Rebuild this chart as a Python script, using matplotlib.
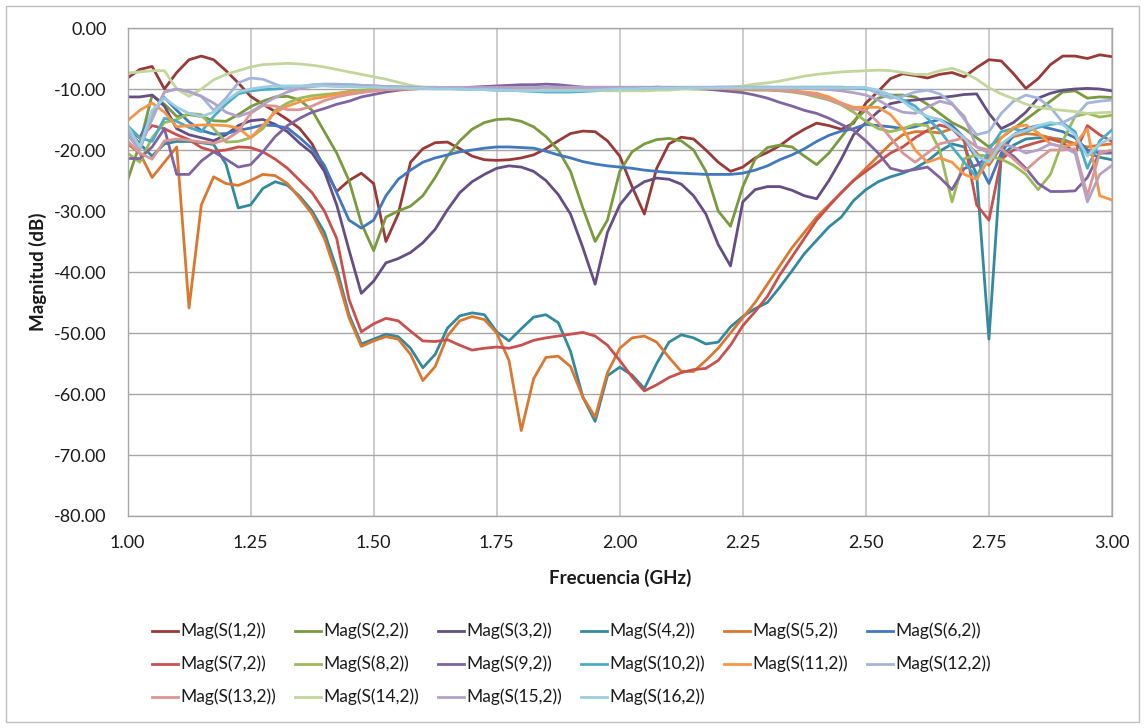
import numpy as np
import matplotlib
matplotlib.use("Agg")
import matplotlib.pyplot as plt
from matplotlib.lines import Line2D
from matplotlib.patches import Rectangle

plt.rcParams['font.family'] = ['Lato', 'DejaVu Sans']

# frequency sweep, 1.0 - 3.0 GHz in 25 MHz steps
freq = np.round(1.0 + 0.025 * np.arange(81), 3)

s1 = [-8.2, -6.8, -6.3, -10.0, -7.3, -5.2, -4.6, -5.2, -7.0, -9.0,
      -11.2, -12.5, -13.7, -15.0, -16.5, -19.0, -23.0, -26.8, -25.0, -23.8,
      -25.5, -35.0, -30.5, -22.0, -19.8, -18.8, -18.7, -19.8, -21.0, -21.6,
      -21.7, -21.6, -21.3, -20.8, -19.8, -18.5, -17.3, -16.9, -17.0, -18.5,
      -21.0, -26.0, -30.5, -23.0, -19.0, -17.9, -18.2, -20.0, -22.0, -23.5,
      -22.8, -21.3, -20.4, -19.3, -17.8, -16.6, -15.6, -16.0, -16.6, -15.6,
      -12.3, -10.4, -8.3, -7.5, -7.8, -8.2, -7.6, -7.3, -8.0, -6.5,
      -5.2, -5.4, -7.5, -9.9, -8.3, -6.0, -4.6, -4.6, -5.0, -4.4,
      -4.7]
s2 = [-25.0, -19.0, -11.0, -12.5, -14.5, -14.2, -14.5, -15.2, -15.3, -14.2,
      -12.9, -12.0, -11.3, -11.2, -11.8, -13.5, -17.0, -20.5, -25.0, -32.0,
      -36.5, -31.0, -30.0, -29.2, -27.5, -24.5, -21.0, -18.5, -16.6, -15.5,
      -15.0, -14.9, -15.3, -16.2, -17.8, -20.0, -23.5, -29.5, -35.0, -31.5,
      -23.5, -20.3, -19.0, -18.3, -18.1, -18.5, -20.0, -23.5, -30.0, -32.5,
      -26.0, -21.5, -19.6, -19.2, -19.5, -21.0, -22.4, -20.5, -17.9, -15.3,
      -13.4, -11.5, -11.0, -11.0, -11.3, -12.5, -14.0, -15.5, -16.5, -18.0,
      -19.5, -18.0, -16.5, -15.0, -13.5, -12.0, -10.5, -10.3, -11.5, -11.3,
      -11.4]
s3 = [-11.3, -11.3, -11.0, -12.8, -16.5, -17.5, -18.0, -18.5, -17.5, -16.0,
      -15.2, -15.0, -15.8, -17.0, -18.9, -20.5, -23.5, -29.0, -36.4, -43.5,
      -41.5, -38.5, -37.8, -36.8, -35.2, -33.0, -29.8, -27.0, -25.2, -24.0,
      -23.0, -22.6, -22.8, -23.5, -25.0, -27.3, -30.5, -36.0, -42.0, -33.5,
      -29.0, -26.5, -25.2, -24.6, -24.8, -25.6, -27.5, -30.5, -35.5, -39.0,
      -28.5, -26.5, -26.0, -26.0, -26.6, -27.5, -28.0, -25.0, -21.5, -17.5,
      -15.5, -13.7, -12.4, -12.0, -11.8, -11.6, -11.4, -11.2, -10.9, -10.8,
      -14.0, -16.5, -15.5, -13.8, -11.5, -10.7, -10.2, -10.0, -9.9, -10.0,
      -10.3]
s4 = [-16.5, -19.0, -21.0, -19.0, -18.6, -18.6, -18.8, -19.1, -22.3, -29.5,
      -29.0, -26.3, -25.2, -25.8, -27.6, -30.0, -33.5, -39.5, -47.0, -51.8,
      -51.0, -50.2, -50.6, -52.5, -55.7, -53.5, -49.2, -47.2, -46.7, -47.0,
      -49.8, -51.3, -49.3, -47.4, -47.0, -48.3, -53.0, -60.5, -64.5, -57.0,
      -55.6, -56.9, -59.1, -55.0, -51.5, -50.3, -50.8, -51.8, -51.5, -49.0,
      -47.3, -46.0, -45.0, -42.5, -39.8, -37.0, -34.8, -32.6, -31.0, -28.3,
      -26.5, -25.2, -24.4, -23.8, -23.0, -21.8, -20.2, -19.0, -19.5, -24.0,
      -51.0, -21.0, -19.2, -18.2, -18.0, -18.0, -18.3, -19.0, -20.5, -21.2,
      -21.6]
s5 = [-19.0, -20.5, -24.5, -22.0, -19.5, -45.9, -29.0, -24.4, -25.5, -25.8,
      -25.0, -24.0, -24.2, -25.5, -27.9, -30.5, -34.5, -40.5, -47.5, -52.2,
      -51.3, -50.6, -51.0, -53.5, -57.8, -55.5, -50.5, -48.0, -47.3, -47.8,
      -50.0, -54.5, -66.0, -57.5, -54.0, -53.8, -55.5, -60.5, -63.8, -56.5,
      -52.5, -50.8, -50.5, -51.5, -54.0, -56.3, -56.3, -54.5, -52.5, -50.0,
      -47.5, -45.0, -42.0, -39.0, -36.0, -33.5, -31.0, -29.0, -27.0, -25.0,
      -23.0, -21.0, -19.0, -17.5, -17.0, -17.0, -17.2, -16.5, -18.5, -20.5,
      -22.5, -19.5, -17.8, -17.3, -17.5, -18.0, -18.5, -19.0, -19.5, -19.2,
      -19.0]
s6 = [-16.4, -18.0, -14.0, -11.4, -13.5, -15.4, -16.8, -17.4, -17.3, -16.8,
      -16.4, -15.9, -16.0, -16.4, -18.0, -19.8, -22.5, -27.0, -31.5, -32.8,
      -31.5, -27.5, -24.8, -23.3, -22.0, -21.3, -20.8, -20.3, -20.0, -19.7,
      -19.5, -19.5, -19.6, -19.7, -20.2, -20.8, -21.3, -21.9, -22.3, -22.6,
      -22.8, -23.0, -23.3, -23.5, -23.7, -23.8, -23.9, -24.0, -24.0, -24.0,
      -23.8, -23.3, -22.6, -21.6, -20.8, -19.8, -18.6, -17.6, -16.9, -16.5,
      -15.8, -16.0, -16.2, -16.5, -16.2, -15.5, -15.0, -16.0, -18.0, -21.5,
      -25.5, -20.5, -17.5, -16.5, -16.0, -16.5, -17.0, -18.0, -20.0, -20.5,
      -20.5]
s7 = [-16.5, -18.0, -16.0, -16.5, -17.5, -18.3, -19.6, -20.2, -20.0, -19.5,
      -19.6, -20.3, -21.5, -23.0, -25.0, -27.0, -30.0, -34.5, -44.5, -49.8,
      -48.5, -47.6, -48.0, -49.7, -51.3, -51.4, -51.1, -52.0, -52.8, -52.5,
      -52.3, -52.5, -52.0, -51.2, -50.8, -50.5, -50.2, -49.9, -50.5, -52.0,
      -54.5, -57.2, -59.5, -58.5, -57.3, -56.5, -56.0, -55.8, -54.5, -52.0,
      -48.8, -46.5, -44.0, -40.5, -37.5, -34.5, -31.5, -29.2, -27.0, -25.0,
      -23.5, -22.0, -20.5, -19.5, -18.0, -16.8, -15.9, -16.5, -18.5, -29.0,
      -31.5, -21.5, -20.0, -19.3, -18.7, -18.2, -18.8, -20.5, -16.0, -17.5,
      -18.6]
s8 = [-20.5, -22.0, -18.0, -15.5, -15.0, -14.0, -14.2, -16.5, -18.7, -18.6,
      -18.0, -16.5, -13.5, -12.3, -11.5, -11.1, -10.9, -10.7, -10.4, -10.2,
      -10.0, -9.9, -9.9, -9.8, -9.8, -9.8, -9.9, -9.9, -10.0, -10.0,
      -10.0, -10.0, -10.0, -9.9, -9.9, -9.8, -9.8, -9.8, -9.9, -9.9,
      -10.0, -10.0, -10.0, -9.9, -9.9, -9.9, -10.0, -10.0, -10.0, -10.1,
      -10.1, -10.2, -10.2, -10.3, -10.5, -10.8, -11.3, -11.8, -12.6, -13.8,
      -15.3, -16.5, -17.0, -16.5, -15.8, -16.0, -20.0, -28.5, -21.4, -20.8,
      -21.0, -21.5, -22.5, -24.0, -26.5, -24.0, -18.5, -14.5, -14.0, -14.6,
      -14.3]
s9 = [-21.4, -21.4, -19.5, -16.5, -24.0, -24.0, -21.8, -20.3, -21.5, -22.8,
      -22.4, -20.3, -17.8, -16.0, -14.8, -13.8, -13.2, -12.5, -12.0, -11.3,
      -10.9, -10.5, -10.2, -10.0, -9.9, -9.9, -9.8, -9.8, -9.7, -9.6,
      -9.5, -9.4, -9.3, -9.3, -9.2, -9.3, -9.5, -9.7, -9.9, -10.0,
      -10.0, -9.9, -9.8, -9.7, -9.8, -9.9, -9.9, -10.0, -10.2, -10.4,
      -10.6, -11.0, -11.5, -12.2, -12.8, -13.5, -14.0, -14.8, -15.8, -16.8,
      -18.5, -20.5, -23.0, -23.5, -23.2, -22.8, -24.5, -26.5, -23.0, -22.5,
      -21.0, -19.8, -21.0, -23.0, -25.5, -26.8, -26.8, -26.7, -24.5, -20.5,
      -20.3]
s10 = [-16.0, -18.0, -18.6, -14.8, -15.3, -16.3, -17.0, -14.5, -12.5, -10.8,
       -10.3, -10.1, -10.0, -9.8, -9.6, -9.5, -9.4, -9.3, -9.3, -9.4,
       -9.5, -9.6, -9.7, -9.8, -9.8, -9.9, -9.9, -10.0, -10.0, -10.1,
       -10.2, -10.2, -10.3, -10.4, -10.5, -10.5, -10.5, -10.4, -10.3, -10.2,
       -10.1, -10.0, -10.0, -9.9, -9.9, -9.8, -9.8, -9.8, -9.7, -9.7,
       -9.7, -9.7, -9.7, -9.7, -9.7, -9.7, -9.7, -9.7, -9.7, -9.8,
       -10.0, -10.3, -11.0, -11.8, -12.8, -14.8, -16.8, -19.5, -22.0, -24.5,
       -20.0, -17.0, -16.5, -17.0, -16.3, -15.8, -15.6, -17.0, -23.0, -18.5,
       -16.7]
s11 = [-15.2, -13.5, -12.3, -13.8, -16.2, -16.0, -15.9, -15.9, -16.0, -16.4,
       -18.0, -16.0, -13.8, -12.8, -12.1, -11.6, -11.3, -10.9, -10.6, -10.5,
       -10.3, -10.1, -10.0, -10.0, -9.9, -9.9, -9.9, -9.9, -9.9, -9.9,
       -9.9, -9.9, -9.9, -9.9, -9.9, -9.9, -9.9, -9.9, -9.9, -9.9,
       -9.9, -9.9, -9.9, -9.9, -9.9, -9.9, -9.9, -9.9, -9.9, -10.0,
       -10.0, -10.0, -10.0, -10.2, -10.3, -10.5, -10.7, -11.3, -12.3, -13.0,
       -13.0, -13.0, -14.2, -16.5, -20.0, -22.0, -21.3, -22.0, -24.0, -24.8,
       -21.5, -18.0, -16.3, -15.9, -17.2, -19.0, -19.5, -19.0, -16.5, -27.5,
       -28.2]
s12 = [-17.0, -19.5, -15.0, -10.5, -10.0, -10.5, -11.2, -13.5, -11.5, -9.0,
       -8.2, -8.4, -9.2, -10.0, -9.6, -9.3, -9.2, -9.2, -9.3, -9.4,
       -9.5, -9.6, -9.6, -9.7, -9.7, -9.7, -9.8, -9.8, -9.8, -9.8,
       -9.8, -9.8, -9.8, -9.8, -9.8, -9.8, -9.8, -9.8, -9.8, -9.8,
       -9.8, -9.8, -9.8, -9.8, -9.8, -9.8, -9.8, -9.8, -9.8, -9.8,
       -9.8, -9.8, -9.8, -9.8, -9.8, -9.8, -9.8, -9.8, -9.8, -9.8,
       -9.8, -10.8, -11.5, -11.2, -10.5, -10.2, -10.8, -12.3, -15.0, -17.5,
       -17.0, -14.0, -12.0, -11.0, -11.5, -13.0, -15.5, -14.5, -12.3, -12.0,
       -11.8]
s13 = [-18.5, -20.5, -21.5, -18.5, -18.2, -18.4, -18.7, -18.9, -18.3, -17.0,
       -14.0, -12.7, -12.8, -13.4, -13.4, -12.8, -11.9, -11.3, -10.9, -10.6,
       -10.3, -10.1, -10.0, -10.0, -9.9, -9.9, -9.9, -9.8, -9.8, -9.8,
       -9.8, -9.8, -9.8, -9.9, -9.9, -9.9, -9.9, -9.9, -9.9, -9.9,
       -9.9, -9.9, -9.9, -9.9, -9.9, -9.9, -9.9, -9.9, -9.9, -9.9,
       -9.9, -10.0, -10.1, -10.2, -10.4, -10.7, -11.0, -11.7, -12.5, -13.3,
       -13.5, -15.5, -18.0, -20.5, -22.0, -20.5, -19.0, -18.5, -18.0, -19.5,
       -20.0, -19.8, -21.5, -23.3, -21.5, -20.0, -20.0, -19.8, -27.5, -20.5,
       -20.0]
s14 = [-7.4, -7.2, -7.0, -7.0, -10.0, -11.2, -10.0, -8.5, -7.6, -7.0,
       -6.4, -6.0, -5.9, -5.8, -5.9, -6.1, -6.4, -6.8, -7.2, -7.6,
       -8.0, -8.4, -8.9, -9.4, -9.7, -9.8, -9.9, -10.0, -10.0, -10.0,
       -10.0, -10.0, -10.1, -10.1, -10.1, -10.2, -10.2, -10.2, -10.2, -10.3,
       -10.3, -10.3, -10.3, -10.2, -10.2, -10.0, -9.9, -9.8, -9.8, -9.7,
       -9.5, -9.2, -9.0, -8.7, -8.3, -7.9, -7.6, -7.4, -7.2, -7.1,
       -7.0, -6.9, -7.0, -7.3, -7.6, -7.6, -7.0, -6.6, -7.3, -8.4,
       -9.8, -10.8, -11.6, -12.5, -13.0, -13.3, -13.5, -13.7, -14.0, -13.9,
       -13.8]
s15 = [-17.5, -20.0, -14.5, -10.5, -10.0, -10.4, -11.2, -12.3, -13.8, -14.5,
       -13.8, -12.5, -11.4, -10.5, -9.9, -9.6, -9.4, -9.4, -9.5, -9.5,
       -9.6, -9.6, -9.7, -9.7, -9.8, -9.8, -9.8, -9.8, -9.8, -9.8,
       -9.8, -9.8, -9.8, -9.8, -9.7, -9.7, -9.7, -9.7, -9.7, -9.7,
       -9.7, -9.7, -9.7, -9.7, -9.7, -9.7, -9.7, -9.7, -9.7, -9.7,
       -9.7, -9.7, -9.7, -9.8, -9.8, -9.9, -10.0, -10.1, -10.3, -10.6,
       -11.0, -11.8, -13.0, -13.8, -14.0, -13.0, -12.0, -12.5, -14.5, -19.5,
       -20.5, -19.0, -19.5, -20.5, -20.0, -19.0, -19.5, -20.5, -28.5, -24.0,
       -22.5]
s16 = [-16.0, -19.5, -13.5, -11.5, -13.0, -14.0, -14.5, -13.8, -12.0, -10.5,
       -10.0, -9.7, -9.5, -9.5, -9.5, -9.5, -9.5, -9.6, -9.6, -9.7,
       -9.7, -9.8, -9.8, -9.9, -9.9, -10.0, -10.0, -10.0, -10.1, -10.1,
       -10.2, -10.2, -10.3, -10.3, -10.3, -10.3, -10.3, -10.2, -10.2, -10.1,
       -10.0, -10.0, -9.9, -9.9, -9.9, -9.8, -9.8, -9.8, -9.8, -9.8,
       -9.8, -9.8, -9.8, -9.8, -9.8, -9.8, -9.8, -9.8, -9.8, -9.8,
       -9.8, -10.2, -11.0, -12.0, -13.5, -14.5, -15.0, -16.5, -18.0, -21.0,
       -22.0, -19.0, -17.5, -16.8, -16.0, -15.5, -15.8, -17.5, -21.0, -19.0,
       -18.0]

series = [s1, s2, s3, s4, s5, s6, s7, s8, s9, s10, s11, s12, s13, s14, s15, s16]
labels = ["Mag(S(%d,2))" % k for k in range(1, 17)]
colors = ['#9A3A38', '#7A9A3E', '#654E84', '#338A9E', '#DB7830', '#4178BE',
          '#C9504D', '#9BBB59', '#8064A2', '#4BACC6', '#F79646', '#A3B5DA',
          '#D99694', '#C3D69B', '#B3A2C7', '#9CCDE0']

W, H = 1145, 728
fig = plt.figure(figsize=(W / 100, H / 100), dpi=100)
ax = fig.add_axes([127.5 / W, 1 - 516 / H, (1112 - 127.5) / W, (516 - 28) / H])

for y, c in zip(series, colors):
    ax.plot(freq, y, color=c, lw=2.0, solid_joinstyle='round')

ax.set_xlim(1.0, 3.0)
ax.set_ylim(-80, 0)
ax.set_xticks(np.arange(1.0, 3.01, 0.25))
ax.set_yticks(np.arange(-80, 1, 10))
ax.xaxis.set_major_formatter(plt.FormatStrFormatter('%.2f'))
ax.yaxis.set_major_formatter(plt.FormatStrFormatter('%.2f'))
ax.tick_params(length=0, labelsize=13, colors='#1A1A1A')
ax.tick_params(axis='x', pad=14)
ax.tick_params(axis='y', pad=15)
ax.grid(axis='y', color='#A6A6A6', lw=1.0)
ax.grid(axis='x', color='#C4C4C4', lw=1.2)
ax.set_axisbelow(True)
for s in ax.spines.values():
    s.set_color('#A6A6A6')
    s.set_linewidth(1.0)

fig.text(620 / W, 1 - 578 / H, 'Frecuencia (GHz)', ha='center', va='center',
         fontsize=13.5, fontweight='bold', color='#1A1A1A')
fig.text(38 / W, 1 - 272 / H, 'Magnitud (dB)', ha='center', va='center',
         rotation=90, fontsize=13.5, fontweight='bold', color='#1A1A1A')

# legend laid out in fixed-width columns, six per row
for i, (lab, c) in enumerate(zip(labels, colors)):
    row, col = divmod(i, 6)
    x0 = 152 + col * 143
    yy = 1 - (631 + row * 33) / H
    fig.add_artist(Line2D([x0 / W, (x0 + 26) / W], [yy, yy], color=c, lw=2.0))
    fig.text((x0 + 28) / W, yy, lab, ha='left', va='center', fontsize=12.5,
             color='#1A1A1A')

fig.add_artist(Rectangle((6 / W, 6 / H), 1133 / W, 716 / H, fill=False,
                         edgecolor='#BFBFBF', lw=1.0, transform=fig.transFigure))

fig.savefig('out.png', dpi=100, facecolor='white')
